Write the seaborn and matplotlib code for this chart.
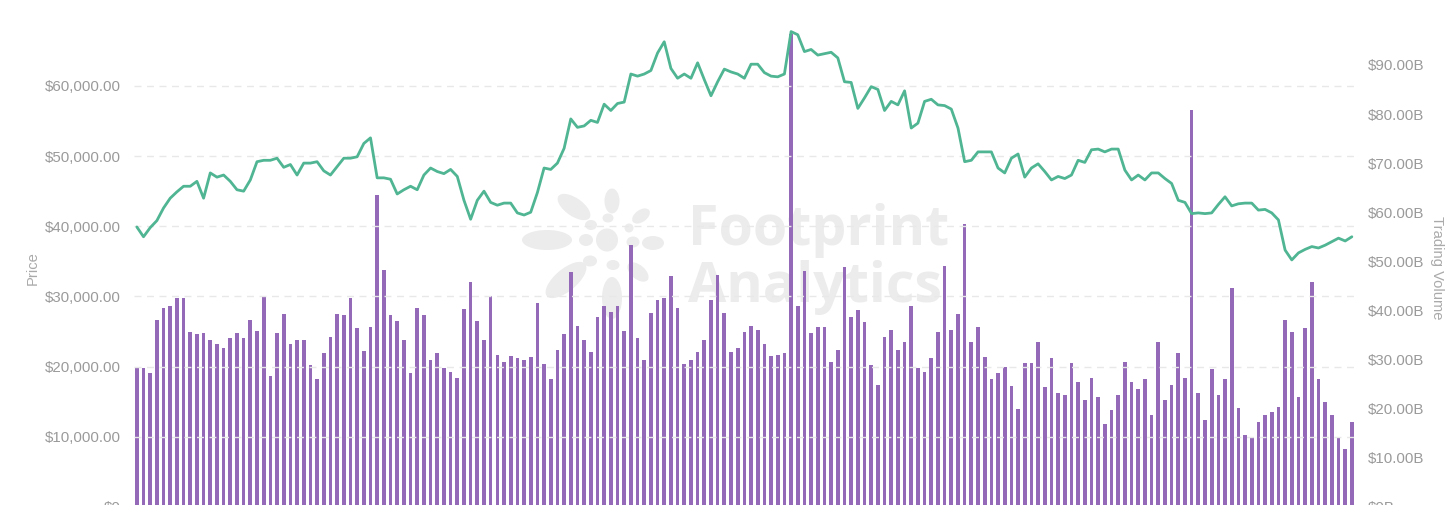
import numpy as np
import pandas as pd
import matplotlib
matplotlib.use("Agg")
import matplotlib.pyplot as plt
import seaborn as sns
from matplotlib.patches import Ellipse

# ---------------- data ----------------
volume_b = [
    28.3, 28.3, 27.2, 38.1, 40.4, 41.0, 42.5, 42.5, 35.6, 35.1,
    35.4, 33.9, 33.1, 32.4, 34.4, 35.4, 34.4, 38.1, 35.9, 43.0,
    26.6, 35.4, 39.2, 33.1, 33.9, 33.9, 28.8, 26.0, 31.4, 34.6,
    39.2, 39.0, 42.5, 36.4, 31.8, 36.6, 63.6, 48.3, 39.0, 37.9,
    33.9, 27.2, 40.4, 39.0, 29.8, 31.3, 28.3, 27.5, 26.2, 40.2,
    45.8, 37.9, 33.9, 43.0, 31.0, 29.5, 30.8, 30.3, 30.0, 30.6,
    41.5, 29.0, 26.0, 32.0, 35.1, 47.8, 36.9, 33.9, 31.6, 38.7,
    41.0, 39.7, 41.0, 35.9, 53.3, 34.4, 30.0, 39.5, 42.2, 42.5,
    47.1, 40.4, 29.0, 29.8, 31.6, 33.9, 42.2, 47.3, 39.5, 31.6,
    32.3, 35.6, 36.9, 36.1, 33.1, 30.8, 31.0, 31.3, 96.3, 41.0,
    48.1, 35.4, 36.6, 36.6, 29.5, 32.0, 48.8, 38.7, 40.0, 37.7,
    28.8, 24.9, 34.6, 36.1, 32.0, 33.6, 41.0, 28.3, 27.5, 30.3,
    35.6, 49.1, 36.1, 39.2, 57.5, 33.6, 36.6, 30.6, 26.0, 27.2,
    28.5, 24.7, 19.9, 29.3, 29.3, 33.6, 24.5, 30.3, 23.2, 22.7,
    29.3, 25.5, 21.7, 26.2, 22.4, 16.8, 19.7, 22.7, 29.5, 25.5,
    24.0, 26.0, 18.6, 33.6, 21.7, 24.9, 31.3, 26.2, 80.9, 23.2,
    17.6, 28.0, 22.7, 26.0, 44.5, 20.1, 14.6, 14.3, 17.3, 18.6,
    19.4, 20.4, 38.1, 35.6, 22.4, 36.4, 45.8, 26.0, 21.4, 18.8,
    14.0, 11.7, 17.3,
]

price_k = [
    39.9, 38.5, 39.8, 40.8, 42.6, 44.0, 44.9, 45.7, 45.7, 46.4,
    44.0, 47.6, 47.0, 47.3, 46.4, 45.2, 45.0, 46.6, 49.2, 49.4,
    49.4, 49.7, 48.4, 48.8, 47.3, 49.0, 49.0, 49.2, 47.9, 47.3,
    48.5, 49.7, 49.7, 49.9, 51.8, 52.6, 46.9, 46.9, 46.7, 44.6,
    45.2, 45.7, 45.2, 47.3, 48.3, 47.8, 47.5, 48.1, 47.1, 43.7,
    41.0, 43.7, 45.0, 43.4, 43.0, 43.3, 43.3, 41.9, 41.6, 42.0,
    44.8, 48.3, 48.1, 49.0, 51.1, 55.3, 54.1, 54.3, 55.1, 54.8,
    57.4, 56.5, 57.5, 57.7, 61.7, 61.4, 61.7, 62.2, 64.7, 66.3,
    62.5, 61.1, 61.7, 61.1, 63.3, 60.9, 58.6, 60.6, 62.4, 62.0,
    61.7, 61.1, 63.1, 63.1, 61.9, 61.4, 61.3, 61.7, 67.75, 67.3,
    64.9, 65.2, 64.4, 64.6, 64.8, 64.0, 60.6, 60.5, 56.8, 58.3,
    59.9, 59.5, 56.5, 57.8, 57.3, 59.3, 54.0, 54.7, 57.8, 58.1,
    57.3, 57.2, 56.7, 54.0, 49.2, 49.4, 50.6, 50.6, 50.6, 48.3,
    47.6, 49.7, 50.3, 47.0, 48.3, 48.9, 47.8, 46.6, 47.1, 46.8,
    47.3, 49.4, 49.1, 50.9, 51.0, 50.6, 51.0, 51.0, 48.0, 46.6,
    47.3, 46.6, 47.6, 47.6, 46.8, 46.1, 43.7, 43.4, 41.8, 41.9,
    41.8, 41.9, 43.1, 44.2, 42.9, 43.2, 43.3, 43.3, 42.3, 42.4,
    41.9, 40.9, 36.6, 35.2, 36.2, 36.7, 37.1, 36.9, 37.3, 37.8,
    38.3, 37.9, 38.5,
]

day = list(range(len(volume_b)))
price = [p * 1000 for p in price_k]

price_ticks = [0, 10000, 20000, 30000, 40000, 50000, 60000]
price_labels = ["$0", "$10,000.00", "$20,000.00", "$30,000.00",
                "$40,000.00", "$50,000.00", "$60,000.00"]
vol_ticks = [0, 10, 20, 30, 40, 50, 60, 70, 80, 90]
vol_labels = ["$0B", "$10.00B", "$20.00B", "$30.00B", "$40.00B",
              "$50.00B", "$60.00B", "$70.00B", "$80.00B", "$90.00B"]

# ---------------- style ----------------
sns.set_theme(style="white")
plt.rcParams["font.family"] = ["Liberation Sans", "DejaVu Sans"]

BAR = "#9369b8"
LINE = "#4fb592"
TICK = "#9a9a9a"
WM = "#ececec"

fig = plt.figure(figsize=(14.55, 5.05), dpi=100)
fig.patch.set_facecolor("white")

# watermark layer (pixel coordinates)
wm = fig.add_axes([0, 0, 1, 1], zorder=-1)
wm.set_xlim(0, 1455)
wm.set_ylim(505, 0)
wm.axis("off")
petals = [
    ((547, 240), 50, 20, 0),
    ((574, 207), 38, 18, 35),
    ((612, 201), 15, 25, 0),
    ((641, 216), 20, 12, -35),
    ((653, 243), 22, 14, 0),
    ((638, 272), 25, 14, 40),
    ((612, 298), 20, 42, 0),
    ((566, 280), 50, 22, -40),
    ((607, 240), 22, 23, 0),
    ((608, 218), 11, 9, 0),
    ((586, 240), 14, 12, 0),
    ((633, 242), 13, 11, 0),
    ((613, 265), 13, 10, 0),
    ((590, 261), 14, 11, 0),
    ((591, 225), 12, 10, 0),
    ((629, 228), 9, 9, 0),
]
for c, w, h, a in petals:
    wm.add_patch(Ellipse(c, w, h, angle=a, facecolor=WM, edgecolor="none"))
wm.text(688, 245, "Footprint", fontsize=40, fontweight="bold",
        family="Open Sans", color=WM, va="baseline", ha="left")
wm.text(688, 302, "Analytics", fontsize=40, fontweight="bold",
        family="Open Sans", color=WM, va="baseline", ha="left")

# main axes
L, B, W, H = 133.5 / 1455, -0.0036, 1221.7 / 1455, 0.9723
ax = fig.add_axes([L, B, W, H])
ax2 = ax.twinx()
ax.set_zorder(2)
ax2.set_zorder(1)
ax.patch.set_visible(False)
ax2.patch.set_visible(False)

sns.barplot(x=day, y=volume_b, ax=ax2, color=BAR, saturation=1,
            width=0.55, linewidth=0)
sns.lineplot(x=day, y=price, ax=ax, color=LINE, linewidth=2.0)

ax.set_xlim(-0.5, len(day) - 0.5)
ax2.set_xlim(-0.5, len(day) - 0.5)
ax.set_ylim(0, 70000)
ax2.set_ylim(0, 100)

ax.set_yticks(price_ticks)
ax.set_yticklabels(price_labels)
ax2.set_yticks(vol_ticks)
ax2.set_yticklabels(vol_labels)
ax.set_xticks([])
ax2.set_xticks([])
ax.set_xlabel("")
ax2.set_xlabel("")

ax.tick_params(axis="y", length=0, pad=9, labelsize=10.8, labelcolor=TICK)
ax2.tick_params(axis="y", length=0, pad=9, labelsize=10.8, labelcolor=TICK)

for a in (ax, ax2):
    for s in a.spines.values():
        s.set_visible(False)

ax.grid(axis="y", color="#e8e8e8", linestyle=(0, (5, 4)), linewidth=1)
ax.grid(axis="x", visible=False)
ax2.grid(False)

ax.set_ylabel("Price", fontsize=10.6, color="#aaaaaa")
ax.yaxis.label.set_va("center")
ax.yaxis.set_label_coords(-0.0823, 0.486)
ax2.set_ylabel("Trading Volume", fontsize=10.6, color="#aaaaaa", rotation=270)
ax2.yaxis.label.set_va("center")
ax2.yaxis.set_label_coords(1.067, 0.486)

fig.savefig("out.png", dpi=100)
